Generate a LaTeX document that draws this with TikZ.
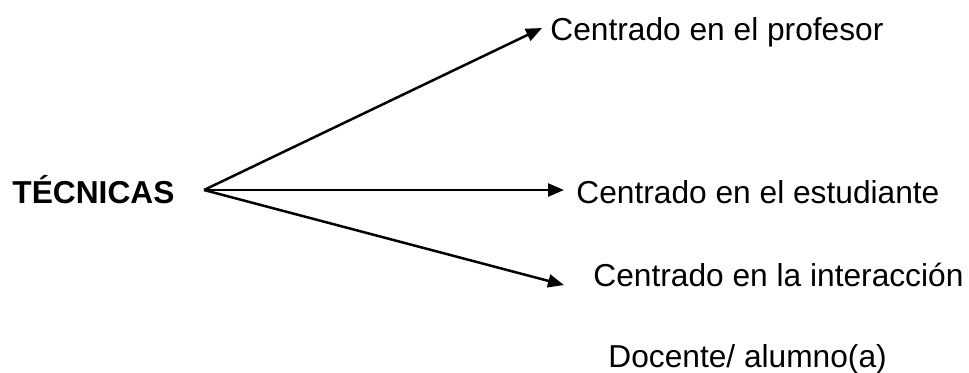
\documentclass[tikz,border=0pt]{standalone}
\usepackage{fontspec}
\setmainfont{Liberation Sans}
\usetikzlibrary{arrows.meta}
\begin{document}
\begin{tikzpicture}[x=0.5pt,y=-0.5pt,
  label text/.style={inner sep=0pt,anchor=base west,font=\fontsize{15.85}{19}\selectfont},
  branch/.style={line width=1.25pt,-{Triangle[length=8pt,width=6.5pt]}}]
  \useasboundingbox (0,0) rectangle (969,372);
  % heading and the three branches
  \node[label text,font=\fontsize{15.85}{19}\selectfont\bfseries] (tec) at (12,203) {TÉCNICAS};
  \coordinate (src) at (204,190);
  \coordinate (tipA) at (542,28);
  \coordinate (tipB) at (564,190);
  \coordinate (tipC) at (564,285);
  \node[label text] (prof) at (550,40) {Centrado en el profesor};
  \node[label text] (est) at (576,203) {Centrado en el estudiante};
  \node[label text] (inter) at (593,286) {Centrado en la interacción};
  \node[label text] (doc) at (608,367) {Docente/ alumno(a)};
  \draw[branch] (src) -- (tipA);
  \draw[branch] (src) -- (tipB);
  \draw[branch] (src) -- (tipC);
\end{tikzpicture}
\end{document}
